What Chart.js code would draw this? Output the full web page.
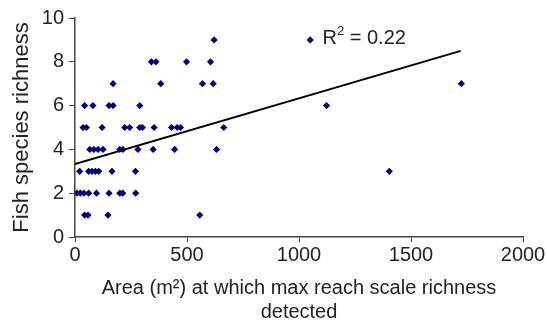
<!DOCTYPE html>
<html>
<head>
<meta charset="utf-8">
<script src="https://cdn.jsdelivr.net/npm/chart.js@4"></script>
<style>
  html, body { margin: 0; padding: 0; background: #fff; }
  #wrap { width: 547px; height: 325px; }
</style>
</head>
<body>
<div id="wrap"><canvas id="chart" width="547" height="325"></canvas></div>
<script>
// Area (m2) and fish species richness
const areaX = [
  621, 1050,
  341, 361, 498, 605,
  170, 383, 569, 617, 1725,
  43, 80, 152, 170, 289, 1123,
  36, 51, 121, 222, 244, 289, 301, 353, 431, 456, 471, 664,
  66, 84, 103, 125, 200, 214, 281, 349, 445, 632,
  21, 61, 76, 91, 106, 165, 270, 1403,
  9, 24, 40, 61, 96, 152, 200, 213, 271,
  43, 58, 147, 557
];
const richnessY = [
  9, 9,
  8, 8, 8, 8,
  7, 7, 7, 7, 7,
  6, 6, 6, 6, 6, 6,
  5, 5, 5, 5, 5, 5, 5, 5, 5, 5, 5, 5,
  4, 4, 4, 4, 4, 4, 4, 4, 4, 4,
  3, 3, 3, 3, 3, 3, 3, 3,
  2, 2, 2, 2, 2, 2, 2, 2, 2,
  1, 1, 1, 1
];
// trend line end points
const trendX = [0, 1722];
const trendY = [3.33, 8.5];
const xTicks = [0, 500, 1000, 1500, 2000];
const yTicks = [0, 2, 4, 6, 8, 10];
const r2At = [1105, 9.05];

const txt = '#222';
const axisCol = '#444';
const family = '"Liberation Sans", Arial, sans-serif';
const font = { family, size: 20 };

// "R² = 0.22" with a real superscript
const r2Plugin = {
  id: 'r2',
  afterDatasetsDraw(chart) {
    const { ctx, scales } = chart;
    let x = scales.x.getPixelForValue(r2At[0]);
    const y = scales.y.getPixelForValue(r2At[1]);
    ctx.save();
    ctx.fillStyle = txt;
    ctx.textBaseline = 'middle';
    ctx.font = '20px ' + family;
    ctx.fillText('R', x, y);
    x += ctx.measureText('R').width;
    ctx.font = '13px ' + family;
    ctx.fillText('2', x, y - 7);
    x += ctx.measureText('2').width;
    ctx.font = '20px ' + family;
    ctx.fillText(' = 0.22', x, y);
    ctx.restore();
  }
};

new Chart(document.getElementById('chart'), {
  type: 'scatter',
  data: {
    datasets: [
      {
        label: 'trend',
        data: trendX.map((x, i) => ({ x, y: trendY[i] })),
        showLine: true,
        borderColor: '#000',
        borderWidth: 2,
        pointRadius: 0,
        order: 0
      },
      {
        label: 'sites',
        data: areaX.map((x, i) => ({ x, y: richnessY[i] })),
        pointStyle: 'rectRot',
        pointRadius: 3.6,
        backgroundColor: '#00007f',
        borderColor: '#00007f',
        borderWidth: 0,
        order: 1
      }
    ]
  },
  options: {
    responsive: false,
    animation: false,
    layout: { padding: { top: 18, right: 24, left: 0, bottom: 0 } },
    plugins: { legend: { display: false }, tooltip: { enabled: false } },
    scales: {
      x: {
        type: 'linear',
        min: 0, max: 2000,
        afterBuildTicks: s => { s.ticks = xTicks.map(v => ({ value: v })); },
        afterFit: s => { s.height = 88; },
        grid: { drawOnChartArea: false, drawTicks: true, tickLength: 5, color: axisCol },
        border: { display: true, color: axisCol, width: 1.5 },
        ticks: { color: txt, font, padding: 1, maxRotation: 0, callback: v => String(v) },
        title: {
          display: true,
          text: ['Area (m²) at which max reach scale richness', 'detected'],
          color: txt, font, padding: { top: 0, bottom: 1 }
        }
      },
      y: {
        min: 0, max: 10,
        afterBuildTicks: s => { s.ticks = yTicks.map(v => ({ value: v })); },
        afterFit: s => { s.width = 75; },
        grid: { drawOnChartArea: false, drawTicks: true, tickLength: 6, color: axisCol },
        border: { display: true, color: axisCol, width: 1.5 },
        ticks: { color: txt, font, padding: 5, callback: v => String(v) },
        title: {
          display: true,
          text: 'Fish species richness',
          color: txt, font: { family, size: 22 }, padding: { top: 9, bottom: 0 }
        }
      }
    }
  },
  plugins: [r2Plugin]
});
</script>
</body>
</html>
